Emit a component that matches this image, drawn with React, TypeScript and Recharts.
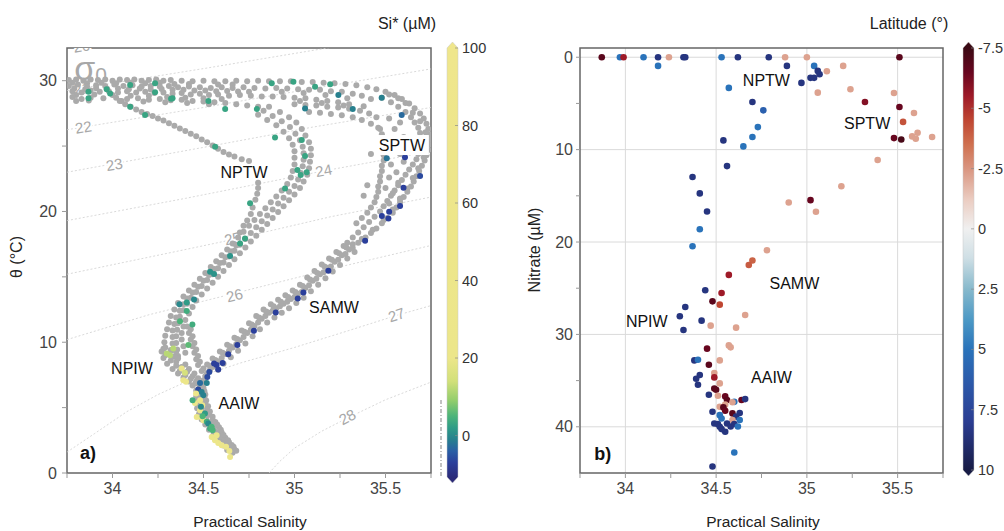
import React from "react";
import { CartesianGrid, ReferenceArea, Scatter, ScatterChart, XAxis, YAxis } from "recharts";

const FONT = '"Liberation Sans", Arial, sans-serif';

// axis ticks
const salinityTicks = [33.75, 34, 34.25, 34.5, 34.75, 35, 35.25, 35.5, 35.75];
const salinityLabels = [34, 34.5, 35, 35.5];
const thetaTicks = [0, 5, 10, 15, 20, 25, 30];
const thetaLabels = [0, 10, 20, 30];
const nitrateTicks = [0, 5, 10, 15, 20, 25, 30, 35, 40];
const nitrateLabels = [0, 10, 20, 30, 40];
const siTicks = [100, 80, 60, 40, 20, 0];
const latTicks = [-7.5, -5, -2.5, 0, 2.5, 5, 7.5, 10];

// colour scales (value, colour)
const siStops: [number, string][] = [
  [-11, "#2b2a78"], [-7, "#2b3f9b"], [-4, "#2a5fa5"], [-1, "#27808e"], [2, "#2f9c87"],
  [5, "#4cb47a"], [9, "#92cd6c"], [14, "#d2e07a"], [20, "#ece68a"], [100, "#efe68c"],
];
const latStops: [number, string][] = [
  [-7.5, "#3b0a14"], [-6.5, "#67061f"], [-5.5, "#9e1a28"], [-4.5, "#bf4632"], [-3.5, "#cf704f"],
  [-2.5, "#d99580"], [-1.2, "#ebcdc2"], [0, "#f0f0f0"], [1.2, "#cfdfe5"], [2.5, "#87b9cc"],
  [3.8, "#4b98c5"], [5, "#2a73ba"], [6.5, "#2c57a8"], [8, "#2b3d92"], [10, "#171b45"],
];

// sigma-0 contours, [salinity, theta]
const sigma21 = [[33.75, 29.25], [34.52, 30.97], [35.18, 32.5], [35.3, 32.8]];
const sigma22 = [[33.75, 26.25], [34.5, 27.95], [35.1, 29.4], [35.75, 30.9]];
const sigma23 = [[33.75, 23.0], [34.5, 24.9], [35.1, 26.45], [35.75, 27.95]];
const sigma24 = [[33.75, 19.3], [34.4, 21.0], [35.16, 23.1], [35.75, 24.6]];
const sigma25 = [[33.75, 15.2], [34.37, 17.0], [34.66, 17.85], [35.2, 19.6], [35.75, 21.1]];
const sigma26 = [[33.75, 10.2], [34.2, 12.1], [34.66, 13.7], [35.2, 15.6], [35.75, 17.4]];
const sigma27 = [[33.75, 1.6], [33.9, 3.0], [34.08, 4.7], [34.25, 6.0], [34.44, 7.2], [34.7, 8.4], [35.0, 9.6], [35.3, 10.9], [35.56, 12.05], [35.75, 12.8]];
const sigma28 = [[34.86, 0], [34.92, 0.9], [35.0, 1.9], [35.15, 3.2], [35.29, 4.2], [35.5, 5.6], [35.75, 6.95]];
const contourLabels: [number, number, string][] = [
  [33.83, 32.65, "20"], [33.83, 29.4, "21"], [33.84, 26.45, "22"], [34.01, 23.6, "23"], [35.16, 23.15, "24"],
  [34.66, 17.95, "25"], [34.67, 13.6, "26"], [35.56, 12.1, "27"], [35.29, 4.3, "28"],
];
const contourAngles: Record<string, number> = { "20": -9, "21": -9, "22": -9, "23": -10, "24": -11, "25": -13, "26": -14, "27": -18, "28": -28 };

// all CTD samples (grey), [salinity, theta]
const surfaceBand = [
  [33.76, 30.05], [33.8, 30.1], [33.84, 30.0], [33.88, 30.1], [33.92, 30.05], [33.96, 30.1], [34.0, 30.0], [34.04, 30.1], [34.08, 30.05], [34.12, 30.1], [34.16, 30.0], [34.2, 30.05], [34.24, 30.1], [34.28, 30.0], [34.32, 30.05], [34.38, 30.0], [34.44, 29.95], [34.5, 30.0], [34.56, 29.95], [34.62, 29.95], [34.68, 30.0], [34.74, 29.95], [34.8, 30.0], [34.86, 29.95], [34.92, 29.95], [34.98, 29.95], [35.04, 29.9], [35.1, 29.9], [35.16, 29.85], [35.22, 29.8], [35.28, 29.75], [35.34, 29.65], [35.4, 29.5],
  [33.78, 29.85], [33.86, 29.8], [33.94, 29.85], [34.02, 29.8], [34.1, 29.85], [34.18, 29.8], [34.26, 29.85], [34.34, 29.75], [34.42, 29.75], [34.58, 29.7], [34.66, 29.7],
  [33.76, 29.6], [33.81, 29.7], [33.86, 29.55], [33.91, 29.65], [33.96, 29.6], [34.01, 29.7], [34.06, 29.6], [34.11, 29.65], [34.16, 29.55], [34.21, 29.6], [34.26, 29.55], [34.31, 29.6], [34.36, 29.5], [34.42, 29.55], [34.48, 29.5], [34.54, 29.45], [34.6, 29.5], [34.66, 29.45], [34.72, 29.5], [34.78, 29.45], [34.84, 29.4], [34.9, 29.45], [34.96, 29.4], [35.02, 29.35], [35.08, 29.3], [35.14, 29.3], [35.2, 29.2], [35.26, 29.15], [35.32, 29.0], [35.37, 28.85], [35.42, 28.6],
  [33.79, 29.4], [33.85, 29.35], [33.91, 29.42], [33.97, 29.38], [34.03, 29.4], [34.09, 29.35], [34.15, 29.4], [34.21, 29.33], [34.27, 29.36], [34.33, 29.3], [34.39, 29.3], [34.45, 29.25], [34.51, 29.25], [34.57, 29.2], [34.63, 29.22], [34.69, 29.18], [34.75, 29.15],
  [33.78, 29.2], [33.83, 29.1], [33.88, 29.25], [33.93, 29.15], [33.98, 29.2], [34.03, 29.1], [34.08, 29.2], [34.13, 29.1], [34.18, 29.15], [34.23, 29.05], [34.28, 29.1], [34.33, 29.0], [34.38, 29.05], [34.43, 28.95], [34.48, 29.0], [34.53, 28.9], [34.58, 28.95], [34.64, 28.85], [34.7, 28.9], [34.76, 28.85], [34.82, 28.8], [34.88, 28.8], [34.94, 28.75], [35.0, 28.7], [35.06, 28.65], [35.12, 28.55], [35.18, 28.45], [35.24, 28.35], [35.3, 28.2],
  [33.8, 28.9], [33.9, 28.95], [34.0, 28.9], [34.1, 28.85], [34.2, 28.85], [34.3, 28.75], [34.4, 28.7], [34.5, 28.65], [34.6, 28.6],
  [33.78, 28.75], [33.83, 28.6], [33.88, 28.7], [33.95, 28.65], [34.02, 28.7], [34.08, 28.6], [34.14, 28.65], [34.2, 28.55], [34.26, 28.6], [34.32, 28.5], [34.38, 28.55], [34.44, 28.45], [34.5, 28.4], [34.56, 28.35], [34.62, 28.3], [34.68, 28.2], [34.74, 28.1], [34.8, 28.0],
  [33.8, 28.45], [33.87, 28.48], [34.05, 28.45], [34.17, 28.4], [34.29, 28.35], [34.41, 28.3], [34.53, 28.2],
  [35.0, 28.2], [35.06, 28.15], [35.12, 28.1], [35.18, 28.0], [35.24, 27.95], [35.3, 27.85], [35.36, 27.7], [35.41, 27.5], [35.45, 27.2],
  [35.08, 27.6], [35.14, 27.55], [35.2, 27.45], [35.26, 27.35], [35.32, 27.2], [35.37, 27.0], [35.42, 26.7], [35.46, 26.4],
  [34.93, 29.15], [35.05, 29.05], [35.17, 28.9], [35.29, 28.65], [35.03, 28.45], [35.15, 28.3], [35.27, 28.1], [35.38, 28.05],
];
const sptwBand = [
  [35.45, 29.35], [35.5, 29.15], [35.55, 28.9], [35.59, 28.6], [35.63, 28.25], [35.66, 27.9], [35.69, 27.5], [35.71, 27.1], [35.725, 26.7], [35.735, 26.3], [35.745, 25.9], [35.745, 25.5], [35.74, 25.1], [35.735, 24.7], [35.725, 24.3], [35.715, 23.9], [35.7, 23.5], [35.685, 23.1], [35.67, 22.7], [35.655, 22.3], [35.64, 21.9], [35.62, 21.5], [35.6, 21.1], [35.58, 20.7], [35.56, 20.3], [35.54, 19.9], [35.51, 19.5], [35.48, 19.1], [35.45, 18.7], [35.42, 18.35], [35.39, 18.0], [35.35, 17.6],
  [35.48, 28.7], [35.53, 28.35], [35.57, 28.0], [35.61, 27.6], [35.64, 27.2], [35.66, 26.8], [35.68, 26.4], [35.69, 26.0], [35.7, 25.6], [35.7, 25.2], [35.69, 24.8], [35.68, 24.4], [35.67, 24.0], [35.65, 23.6], [35.63, 23.2], [35.61, 22.8], [35.59, 22.4], [35.57, 22.0], [35.55, 21.6], [35.53, 21.2], [35.51, 20.8], [35.49, 20.4], [35.47, 20.0], [35.44, 19.6], [35.41, 19.2], [35.38, 18.8], [35.35, 18.4], [35.32, 18.0], [35.29, 17.6],
  [35.47, 26.3], [35.48, 25.9], [35.49, 25.5], [35.49, 25.1], [35.49, 24.7], [35.49, 24.3], [35.49, 23.9], [35.48, 23.5], [35.48, 23.1], [35.47, 22.7], [35.47, 22.3], [35.46, 21.9], [35.46, 21.5], [35.45, 21.1], [35.44, 20.7], [35.42, 20.3], [35.4, 19.9], [35.37, 19.5], [35.34, 19.1],
  [35.55, 25.0], [35.58, 24.4], [35.53, 23.6], [35.56, 23.0], [35.6, 23.8], [35.52, 22.6], [35.57, 22.2], [35.54, 21.4], [35.5, 21.8], [35.58, 21.0], [35.52, 20.6], [35.62, 24.9], [35.6, 25.7], [35.55, 26.3], [35.58, 26.8], [35.52, 27.1], [35.42, 24.4], [35.4, 22.0], [35.38, 21.2],
  [35.52, 28.95], [35.57, 28.65], [35.61, 28.3], [35.65, 27.55], [35.69, 26.9], [35.72, 26.05], [35.725, 25.1], [35.71, 24.15], [35.68, 23.3], [35.65, 22.55], [35.62, 21.75], [35.58, 20.95], [35.54, 20.15], [35.49, 19.35], [35.43, 18.6], [35.37, 17.9], [35.32, 17.5],
];
const samwBand = [
  [35.3, 17.1], [35.26, 16.65], [35.22, 16.15], [35.18, 15.7], [35.14, 15.2], [35.1, 14.7], [35.06, 14.15], [35.02, 13.7], [34.98, 13.3], [34.94, 12.95], [34.9, 12.6], [34.86, 12.25], [34.82, 11.8], [34.78, 11.25], [34.74, 10.7], [34.7, 10.15], [34.66, 9.6], [34.62, 9.1], [34.58, 8.55], [34.55, 8.1], [34.52, 7.6], [34.5, 7.1],
  [35.33, 16.9], [35.29, 16.4], [35.25, 15.9], [35.21, 15.4], [35.17, 14.9], [35.13, 14.4], [35.09, 13.9], [35.05, 13.4], [35.01, 13.0], [34.97, 12.6], [34.93, 12.25], [34.89, 11.9], [34.85, 11.5], [34.81, 11.0], [34.77, 10.45], [34.73, 9.9], [34.69, 9.35], [34.65, 8.85], [34.61, 8.35], [34.58, 7.9],
  [35.27, 17.35], [35.23, 16.9], [35.19, 16.4], [35.15, 15.95], [35.11, 15.45], [35.07, 14.95], [35.03, 14.4], [34.99, 13.95], [34.95, 13.6], [34.91, 13.25], [34.87, 12.9], [34.83, 12.5], [34.79, 12.0], [34.75, 11.45], [34.71, 10.9], [34.67, 10.35], [34.63, 9.8], [34.59, 9.3], [34.55, 8.75], [34.52, 8.3],
  [35.32, 17.2], [35.28, 16.75], [35.24, 16.3], [35.2, 15.8], [35.16, 15.35], [35.12, 14.85], [35.08, 14.35], [35.04, 13.85], [35.0, 13.45], [34.96, 13.1], [34.92, 12.75], [34.88, 12.4], [34.84, 12.0], [34.8, 11.5], [34.76, 10.95], [34.72, 10.4], [34.68, 9.85], [34.64, 9.35], [34.6, 8.8], [34.565, 8.3], [34.535, 7.85],
  [35.285, 17.25], [35.245, 16.8], [35.205, 16.3], [35.165, 15.8], [35.125, 15.3], [35.085, 14.8], [35.045, 14.3], [35.005, 13.85], [34.965, 13.45], [34.925, 13.1], [34.885, 12.75], [34.845, 12.35], [34.805, 11.9], [34.765, 11.35], [34.725, 10.8], [34.685, 10.25], [34.645, 9.7], [34.605, 9.2], [34.565, 8.65], [34.535, 8.2],
];
const nptwBand = [
  [34.86, 28.0], [34.92, 27.6], [34.97, 27.2], [35.01, 26.8], [35.04, 26.3], [35.06, 25.8], [35.08, 25.3], [35.09, 24.8], [35.09, 24.3], [35.085, 23.8], [35.08, 23.3], [35.07, 22.8], [35.05, 22.3], [35.03, 21.8], [35.0, 21.3], [34.97, 20.85], [34.94, 20.4], [34.91, 19.95], [34.88, 19.5], [34.85, 19.05], [34.82, 18.6], [34.79, 18.15], [34.76, 17.7], [34.73, 17.25], [34.7, 16.8], [34.67, 16.35], [34.64, 15.9], [34.61, 15.45], [34.58, 15.0], [34.55, 14.55], [34.52, 14.1], [34.49, 13.65], [34.46, 13.2], [34.44, 12.7], [34.42, 12.2], [34.4, 11.7], [34.39, 11.2], [34.38, 10.7], [34.38, 10.2], [34.39, 9.7], [34.4, 9.2],
  [34.8, 27.4], [34.85, 27.0], [34.9, 26.6], [34.94, 26.1], [34.97, 25.6], [34.99, 25.1], [35.0, 24.6], [35.0, 24.1], [35.0, 23.6], [34.99, 23.1], [34.98, 22.6], [34.96, 22.1], [34.93, 21.6], [34.9, 21.15], [34.87, 20.7], [34.84, 20.25], [34.81, 19.8], [34.78, 19.35], [34.75, 18.9], [34.72, 18.45], [34.69, 18.0], [34.66, 17.55], [34.63, 17.1], [34.6, 16.65], [34.57, 16.2], [34.54, 15.75], [34.51, 15.3], [34.48, 14.85], [34.45, 14.4], [34.42, 13.95], [34.39, 13.5], [34.36, 13.0], [34.34, 12.5], [34.32, 12.0], [34.31, 11.5], [34.3, 11.0], [34.29, 10.5], [34.285, 10.0], [34.28, 9.5], [34.29, 9.0],
  [34.83, 27.7], [34.88, 27.3], [34.93, 26.9], [34.975, 26.45], [35.005, 25.95], [35.03, 25.45], [35.045, 24.95], [35.05, 24.45], [35.05, 23.95], [35.045, 23.45], [35.035, 22.95], [35.02, 22.45], [35.0, 21.95], [34.97, 21.5], [34.94, 21.05], [34.91, 20.6], [34.88, 20.15], [34.85, 19.7], [34.82, 19.25], [34.79, 18.8], [34.76, 18.35], [34.73, 17.9], [34.7, 17.45], [34.67, 17.0], [34.64, 16.55], [34.61, 16.1], [34.58, 15.65], [34.55, 15.2], [34.52, 14.75], [34.49, 14.3], [34.46, 13.85], [34.43, 13.4], [34.41, 12.95], [34.39, 12.45], [34.37, 11.95], [34.36, 11.45], [34.355, 10.95], [34.35, 10.45], [34.35, 9.95], [34.355, 9.45], [34.36, 8.95],
  [34.68, 17.4], [34.65, 16.95], [34.62, 16.5], [34.59, 16.05], [34.56, 15.6], [34.53, 15.15], [34.5, 14.7], [34.47, 14.25], [34.44, 13.8], [34.41, 13.35], [34.39, 12.9], [34.37, 12.4], [34.35, 11.9], [34.34, 11.4], [34.33, 10.9], [34.33, 10.4], [34.33, 9.9], [34.33, 9.4], [34.34, 8.9],
  [34.8, 22.2], [34.8, 21.8], [34.795, 21.35], [34.785, 20.9], [34.77, 20.3], [34.76, 19.8], [34.74, 19.3], [34.72, 18.9], [34.7, 18.4],
  [34.04, 28.45], [34.07, 28.2], [34.1, 28.0], [34.13, 27.8], [34.16, 27.6], [34.19, 27.45], [34.22, 27.3], [34.25, 27.1], [34.28, 26.95], [34.31, 26.75], [34.34, 26.55], [34.37, 26.35], [34.4, 26.15], [34.43, 25.95], [34.46, 25.75], [34.49, 25.5], [34.52, 25.3], [34.55, 25.05], [34.58, 24.8], [34.61, 24.55], [34.64, 24.35], [34.67, 24.2], [34.71, 24.0], [34.75, 23.85],
];
const npiwBand = [
  [34.27, 9.3], [34.28, 8.8], [34.3, 8.35], [34.33, 7.95], [34.36, 7.6], [34.39, 7.3], [34.42, 7.0], [34.44, 6.7],
  [34.32, 9.4], [34.33, 8.9], [34.35, 8.5], [34.38, 8.1], [34.41, 7.75], [34.44, 7.4], [34.46, 7.0], [34.48, 6.6],
  [34.41, 11.2], [34.42, 10.7], [34.43, 10.2], [34.44, 9.7], [34.45, 9.2], [34.46, 8.7], [34.47, 8.25], [34.49, 7.8], [34.51, 7.4],
  [34.29, 9.6], [34.3, 9.1], [34.32, 8.6], [34.35, 8.2], [34.37, 7.8], [34.4, 7.5], [34.43, 7.2], [34.455, 6.85], [34.35, 9.3], [34.36, 8.75], [34.4, 8.3], [34.42, 7.95], [34.45, 7.6], [34.47, 7.25], [34.49, 6.85],
  [34.43, 11.0], [34.44, 10.45], [34.45, 9.95], [34.46, 9.45], [34.47, 8.95], [34.48, 8.5], [34.5, 8.0], [34.52, 7.6],
];
const aaiwBand = [
  [34.46, 6.3], [34.46, 5.85], [34.46, 5.4], [34.465, 4.95], [34.475, 4.5], [34.49, 4.1], [34.51, 3.7], [34.53, 3.3], [34.555, 2.9], [34.58, 2.5], [34.61, 2.1], [34.63, 1.75], [34.66, 1.55],
  [34.5, 6.5], [34.51, 6.0], [34.515, 5.55], [34.525, 5.1], [34.535, 4.7], [34.55, 4.3], [34.565, 3.9], [34.585, 3.5], [34.6, 3.1], [34.62, 2.7], [34.64, 2.35], [34.665, 2.0], [34.68, 1.7],
  [34.48, 6.0], [34.485, 5.5], [34.49, 5.0], [34.5, 4.6], [34.515, 4.2], [34.535, 3.8], [34.555, 3.4], [34.575, 3.0], [34.6, 2.6], [34.625, 2.2], [34.65, 1.85],
  [34.47, 6.1], [34.47, 5.65], [34.47, 5.15], [34.48, 4.7], [34.495, 4.3], [34.52, 3.95], [34.54, 3.55], [34.565, 3.15], [34.59, 2.75], [34.615, 2.4], [34.64, 2.05], [34.67, 1.8],
  [34.505, 6.25], [34.505, 5.75], [34.51, 5.3], [34.52, 4.9], [34.53, 4.45], [34.55, 4.05], [34.575, 3.7], [34.595, 3.3], [34.61, 2.9], [34.635, 2.5], [34.655, 2.15],
];

// samples with Si*, [salinity, theta, Si*]
const siSamples = [
  [33.868, 29.16, 3], [33.868, 28.65, 3], [33.968, 29.34, 3], [33.987, 29.03, 3], [34.097, 29.67, 3], [34.097, 28.01, 3], [34.179, 27.37, 3], [34.234, 29.8, 3], [34.234, 29.11, 3], [34.322, 28.62, 3], [34.33, 28.65, 3], [34.527, 28.45, 3], [34.564, 24.95, 3], [34.619, 27.83, 3], [34.793, 27.83, 3], [34.875, 29.8, 3], [34.893, 25.66, 3], [34.994, 29.92, 3], [35.04, 25.46, 3], [35.058, 24.24, 3], [35.067, 22.99, 3], [35.016, 23.17, 3], [35.034, 22.78, 3], [34.948, 21.76, 3], [34.756, 20.62, 3], [35.113, 29.54, 3], [35.196, 29.72, 3], [34.701, 17.55, 3], [34.728, 17.94, 3],
  [35.241, 28.9, -1], [35.058, 27.88, -1], [35.32, 27.83, -1], [35.479, 28.7, -1], [35.589, 27.37, -3], [35.507, 24.06, -2],
  [35.607, 24.14, -7], [35.69, 22.71, -6], [35.599, 21.81, -7], [35.58, 20.41, -7], [35.48, 19.65, -7], [35.52, 19.98, -7], [35.516, 19.47, -7], [35.388, 17.76, -7], [35.186, 15.46, -7], [35.049, 13.81, -7], [35.018, 13.35, -7], [34.897, 12.28, -7],
  [34.646, 16.59, 1], [34.536, 15.39, 1], [34.558, 15.21, 1], [34.368, 12.91, 0], [34.408, 13.04, 2], [34.448, 13.27, 0], [34.408, 12.38, 4], [34.371, 11.61, 5], [34.439, 11.36, 4], [34.417, 9.78, 6],
  [34.777, 10.87, -7], [34.686, 9.78, -7], [34.636, 9.09, -7], [34.605, 8.42, -7], [34.572, 8.25, -7], [34.581, 7.92, -7], [34.558, 8.38, -7], [34.532, 7.73, -6], [34.521, 7.35, -6], [34.481, 6.89, -3], [34.471, 6.39, -6], [34.49, 6.2, -1], [34.518, 6.89, -1], [34.499, 5.95, -1],
  [34.334, 9.52, 12], [34.316, 9.01, 12], [34.298, 9.14, 12], [34.38, 7.99, 25], [34.398, 7.66, 15], [34.389, 7.1, 25], [34.404, 6.97, 25],
  [34.459, 6.08, 30], [34.481, 5.57, 30], [34.453, 5.36, 30], [34.493, 5.19, 30], [34.481, 4.8, 30], [34.463, 4.29, 30], [34.49, 4.24, 30], [34.499, 4.04, 30], [34.518, 3.91, 4], [34.526, 3.78, 0], [34.536, 3.4, 4], [34.55, 3.27, 5], [34.545, 2.76, 30], [34.572, 2.89, 30], [34.563, 2.51, 30], [34.581, 2.3, 30], [34.6, 2.13, 30], [34.624, 2.0, 30], [34.642, 1.69, 30], [34.646, 1.23, 30], [34.44, 5.57, 4], [34.486, 5.06, 0], [34.508, 4.55, 2], [34.495, 4.34, 5], [34.545, 3.53, 5],
];

// nitrate samples, [salinity, nitrate, latitude]
const nitrateSamples = [
  [33.87, 0, -6.8], [33.97, 0, 5], [33.99, 0, -5.5], [34.1, 0, 5], [34.18, 0, 8.5], [34.18, 0.94, 5], [34.24, 0, -2.2], [34.32, 0, 8.5], [34.33, 0, 8.5], [34.53, 0, 5], [34.62, 0, 8.5], [34.79, 0, 8.5], [34.88, 0, -2.2], [35.0, 0, -2.2], [35.51, 0, -6.8],
  [34.89, 0.94, 8.5], [35.04, 0.94, 5], [35.06, 1.48, 8.5], [35.07, 1.84, 8.5], [35.02, 2.23, 8.5], [35.04, 2.23, 8.5], [34.97, 2.78, 8.5], [35.11, 1.52, -2.2], [35.2, 0.94, -2.2], [34.57, 3.32, 5], [35.06, 3.83, -2.2], [35.24, 3.47, -2.2], [35.48, 3.87, -2.2], [34.7, 4.85, 8.5], [35.32, 4.85, -6], [34.76, 5.75, 6], [35.51, 5.39, -6.5], [35.59, 6.03, -2.2], [35.53, 7.0, -4.2], [34.73, 7.56, 5], [35.61, 8.17, -2.2], [35.58, 8.57, -2.2], [35.6, 8.82, -2.2], [35.48, 8.75, -6.5], [35.52, 8.9, -7.2], [35.69, 8.64, -2.2], [34.7, 8.64, 5], [34.54, 9.0, 8.5], [34.65, 9.65, 5],
  [35.39, 11.13, -2.2], [34.56, 11.78, 8.5], [34.37, 12.97, 8.5], [35.19, 13.96, -2.2], [34.41, 14.74, 8.5], [35.02, 15.47, -6.5], [34.9, 15.72, -2.2], [34.45, 16.69, 8.5], [35.05, 16.73, -2.2], [34.41, 18.61, 5], [34.37, 20.46, 5], [34.78, 20.89, -2.2], [34.7, 22.0, -3.8], [34.68, 22.48, -4],
  [34.57, 23.56, -5.5], [34.44, 25.22, 8.5], [34.53, 25.51, -5.5], [34.48, 26.42, -6.8], [34.52, 26.78, -4.5], [34.33, 27.03, 8.5], [34.66, 27.9, -2.2], [34.3, 28.04, 8.5], [34.42, 28.51, 8.5], [34.47, 29.05, -2.2], [34.61, 29.27, -2.2], [34.32, 29.52, 8.5],
  [34.57, 31.19, -2.2], [34.58, 31.4, -2.2], [34.45, 31.54, -6.5], [34.52, 32.81, -2.2], [34.38, 32.81, 8.5], [34.4, 32.74, 5], [34.46, 33.28, -6.8], [34.49, 34.18, -2.2], [34.41, 34.4, 8.5], [34.49, 34.65, -5.5], [34.39, 34.8, 8.5], [34.4, 35.45, 8.5], [34.52, 35.3, -2.2], [34.49, 35.85, -6.8], [34.5, 35.99, -6.8], [34.46, 36.53, 8.5], [34.51, 36.64, -2.2], [34.55, 36.71, -6.5], [34.56, 37.1, -6.8], [34.6, 37.3, 5], [34.64, 37.1, -6.5], [34.66, 37.0, 8.5], [34.59, 37.35, -2.2], [34.55, 37.6, -2.2], [34.52, 37.83, -2.2], [34.54, 37.9, -6.8], [34.55, 38.27, -6.5], [34.48, 38.37, 8.5], [34.59, 38.55, -6.8], [34.63, 38.5, 8.5], [34.52, 38.74, 5], [34.53, 39.1, 5], [34.61, 38.9, 8.5], [34.59, 39.27, -2.2], [34.63, 39.27, 5], [34.51, 39.71, 8.5], [34.52, 40.0, 8.5], [34.56, 39.64, 8.5], [34.58, 39.97, 8.5], [34.6, 39.7, 8.5], [34.55, 40.54, 8.5], [34.62, 39.97, 5], [34.53, 40.25, 8.5], [34.49, 39.64, 8.5], [34.6, 42.78, 5], [34.48, 44.3, 8.5],
];

// water mass labels
const leftNotes: [number, number, string][] = [
  [34.723, 23.01, "NPTW"], [35.59, 25.08, "SPTW"], [35.217, 12.68, "SAMW"], [34.107, 8.02, "NPIW"], [34.695, 5.34, "AAIW"], [33.865, 1.5, "a)"],
];
const rightNotes: [number, number, string][] = [
  [34.777, 2.49, "NPTW"], [35.332, 7.15, "SPTW"], [34.931, 24.5, "SAMW"], [34.118, 28.6, "NPIW"], [34.805, 34.7, "AAIW"], [33.876, 42.9, "b)"],
];

function hexToRgb(h: string) {
  const n = parseInt(h.slice(1), 16);
  return [(n >> 16) & 255, (n >> 8) & 255, n & 255];
}
function colorAt(stops: [number, string][], v: number) {
  if (v <= stops[0][0]) return stops[0][1];
  for (let i = 1; i < stops.length; i++) {
    if (v <= stops[i][0]) {
      const [v0, c0] = stops[i - 1];
      const [v1, c1] = stops[i];
      const f = (v - v0) / (v1 - v0);
      const a = hexToRgb(c0);
      const b = hexToRgb(c1);
      return `rgb(${a.map((x, k) => Math.round(x + (b[k] - x) * f)).join(",")})`;
    }
  }
  return stops[stops.length - 1][1];
}

const toST = (arr: number[][]) => arr.map(([s, t]) => ({ s, t }));
const contours = [sigma21, sigma22, sigma23, sigma24, sigma25, sigma26, sigma27, sigma28].map(toST);
const grayData = toST([...surfaceBand, ...sptwBand, ...samwBand, ...nptwBand, ...npiwBand, ...aaiwBand]);
const siData = siSamples.map(([s, t, v]) => ({ s, t, v }));
const nitrateData = nitrateSamples.map(([s, n, v]) => ({ s, n, v }));
const contourLabelData = contourLabels.map(([s, t, label]) => ({ s, t, label }));
const sigmaTitle = [{ s: 33.79, t: 30.05 }];
const leftNoteData = leftNotes.map(([s, t, label]) => ({ s, t, label }));
const rightNoteData = rightNotes.map(([s, n, label]) => ({ s, n, label }));

const tickStyle = { fontFamily: FONT, fontSize: 16, fill: "#444" };
const onlyLabels = (labels: number[]) => (v: number) => (labels.includes(v) ? String(v) : "");
const noMark = () => <g />;

const ContourLabel = (p: any) => (
  <text
    x={p.cx}
    y={p.cy}
    transform={`rotate(${contourAngles[p.payload.label]} ${p.cx} ${p.cy})`}
    textAnchor="middle"
    dominantBaseline="central"
    fontFamily={FONT}
    fontSize={15}
    fill="#a8a8a8"
    stroke="#fff"
    strokeWidth={4}
    paintOrder="stroke"
  >
    {p.payload.label}
  </text>
);

const SigmaTitle = (p: any) => (
  <text x={p.cx} y={p.cy} fontFamily={FONT} fill="#a8a8a8">
    <tspan fontSize={34}>σ</tspan>
    <tspan fontSize={21} dy={2}>0</tspan>
  </text>
);

const Note = (boxed: string[]) => (p: any) => {
  const bold = p.payload.label.endsWith(")");
  return (
    <g>
      {boxed.includes(p.payload.label) && <rect x={p.cx - 27} y={p.cy - 10} width={54} height={20} fill="#fff" />}
      <text
        x={p.cx}
        y={p.cy}
        textAnchor="middle"
        dominantBaseline="central"
        fontFamily={FONT}
        fontSize={bold ? 18 : 16}
        fontWeight={bold ? "bold" : "normal"}
        fill="#111"
      >
        {p.payload.label}
      </text>
    </g>
  );
};

function ColorBar({ x, top, bottom, vTop, vBottom, stops, ticks, id }: any) {
  const w = 11;
  const tip = 6;
  const y = (v: number) => top + ((v - vTop) / (vBottom - vTop)) * (bottom - top);
  const y0 = top - tip;
  const y1 = bottom + tip;
  const gradStops = stops
    .map(([v, c]: [number, string]) => ({ o: Math.min(1, Math.max(0, (y(v) - y0) / (y1 - y0))), c }))
    .sort((a: any, b: any) => a.o - b.o);
  return (
    <g>
      <defs>
        <linearGradient id={id} x1="0" y1="0" x2="0" y2="1">
          {gradStops.map((g: any, i: number) => (
            <stop key={i} offset={g.o} stopColor={g.c} />
          ))}
        </linearGradient>
      </defs>
      <path
        d={`M${x},${top} L${x + w / 2},${y0} L${x + w},${top} L${x + w},${bottom} L${x + w / 2},${y1} L${x},${bottom} Z`}
        fill={`url(#${id})`}
        stroke="#c8c8c8"
        strokeWidth={0.5}
      />
      {ticks.map((t: number) => (
        <g key={t}>
          <line x1={x + w - 3} x2={x + w} y1={y(t)} y2={y(t)} stroke="#888" strokeWidth={0.7} />
          <text x={x + w + 4} y={y(t)} dominantBaseline="central" fontFamily={FONT} fontSize={14.5} fill="#333">
            {String(t)}
          </text>
        </g>
      ))}
    </g>
  );
}

export default function App() {
  return (
    <div style={{ position: "absolute", left: 0, top: 0, width: 1004, height: 531, background: "#fff" }}>
      <div style={{ position: "absolute", left: 0, top: 0 }}>
        <ScatterChart width={500} height={531} margin={{ top: 48, right: 69, bottom: 28, left: 7 }}>
          <XAxis
            type="number"
            dataKey="s"
            domain={[33.75, 35.75]}
            ticks={salinityTicks}
            interval={0}
            allowDataOverflow
            tickFormatter={onlyLabels(salinityLabels)}
            tick={tickStyle}
            tickLine={{ stroke: "#999" }}
            tickSize={5}
            tickMargin={5}
            axisLine={false}
          />
          <YAxis
            type="number"
            dataKey="t"
            domain={[0, 32.5]}
            ticks={thetaTicks}
            interval={0}
            allowDataOverflow
            width={60}
            tickFormatter={onlyLabels(thetaLabels)}
            tick={tickStyle}
            tickLine={{ stroke: "#999" }}
            tickSize={5}
            tickMargin={5}
            axisLine={false}
          />
          {contours.map((c, i) => (
            <Scatter
              key={i}
              data={c}
              line={{ stroke: "#cfcfcf", strokeWidth: 0.8, strokeDasharray: "2 2" }}
              lineType="joint"
              shape={noMark}
              isAnimationActive={false}
            />
          ))}
          <Scatter data={contourLabelData} shape={ContourLabel} isAnimationActive={false} />
          <Scatter data={sigmaTitle} shape={SigmaTitle} isAnimationActive={false} />
          <Scatter
            data={grayData}
            shape={(p: any) => <circle cx={p.cx} cy={p.cy} r={3} fill="#aaaaaa" />}
            isAnimationActive={false}
          />
          <Scatter
            data={siData}
            shape={(p: any) => <circle cx={p.cx} cy={p.cy} r={3} fill={colorAt(siStops, p.payload.v)} />}
            isAnimationActive={false}
          />
          <Scatter data={leftNoteData} shape={Note(["SPTW"])} isAnimationActive={false} />
          <ReferenceArea x1={33.75} x2={35.75} y1={0} y2={32.5} fill="none" stroke="#666" strokeWidth={1.5} />
        </ScatterChart>
      </div>
      <div style={{ position: "absolute", left: 500, top: 0 }}>
        <ScatterChart width={504} height={531} margin={{ top: 48, right: 61, bottom: 28, left: 20 }}>
          <CartesianGrid verticalValues={salinityLabels} horizontalValues={nitrateLabels} stroke="#dadada" />
          <XAxis
            type="number"
            dataKey="s"
            domain={[33.75, 35.75]}
            ticks={salinityTicks}
            interval={0}
            allowDataOverflow
            tickFormatter={onlyLabels(salinityLabels)}
            tick={tickStyle}
            tickLine={{ stroke: "#999" }}
            tickSize={5}
            tickMargin={5}
            axisLine={false}
          />
          <YAxis
            type="number"
            dataKey="n"
            domain={[-1, 45]}
            reversed
            ticks={nitrateTicks}
            interval={0}
            allowDataOverflow
            width={60}
            tickFormatter={onlyLabels(nitrateLabels)}
            tick={tickStyle}
            tickLine={{ stroke: "#999" }}
            tickSize={4}
            tickMargin={3}
            axisLine={false}
          />
          <Scatter
            data={nitrateData}
            shape={(p: any) => <circle cx={p.cx} cy={p.cy} r={3.3} fill={colorAt(latStops, p.payload.v)} />}
            isAnimationActive={false}
          />
          <Scatter data={rightNoteData} shape={Note([])} isAnimationActive={false} />
          <ReferenceArea x1={33.75} x2={35.75} y1={-1} y2={45} fill="none" stroke="#666" strokeWidth={1.5} />
        </ScatterChart>
      </div>
      <svg width={1004} height={531} style={{ position: "absolute", left: 0, top: 0, pointerEvents: "none" }}>
        <ColorBar x={447} top={48} bottom={477} vTop={100} vBottom={-10.7} stops={siStops} ticks={siTicks} id="siGrad" />
        <ColorBar x={963} top={48} bottom={470} vTop={-7.5} vBottom={10} stops={latStops} ticks={latTicks} id="latGrad" />
        <line x1={441} x2={441} y1={400} y2={476} stroke="#666" strokeWidth={0.8} strokeDasharray="4 2 1 2" />
        <text x={407} y={29} textAnchor="middle" fontFamily={FONT} fontSize={16} fill="#222">Si* (µM)</text>
        <text x={909} y={29} textAnchor="middle" fontFamily={FONT} fontSize={16} fill="#222">Latitude (°)</text>
        <text x={250} y={527} textAnchor="middle" fontFamily={FONT} fontSize={15.5} fill="#222">Practical Salinity</text>
        <text x={763} y={527} textAnchor="middle" fontFamily={FONT} fontSize={15.5} fill="#222">Practical Salinity</text>
        <text x={22} y={257} textAnchor="middle" fontFamily={FONT} fontSize={16} fill="#222" transform="rotate(-90 22 257)">θ (°C)</text>
        <text x={540} y={250} textAnchor="middle" fontFamily={FONT} fontSize={16} fill="#222" transform="rotate(-90 540 250)">Nitrate (µM)</text>
      </svg>
    </div>
  );
}
